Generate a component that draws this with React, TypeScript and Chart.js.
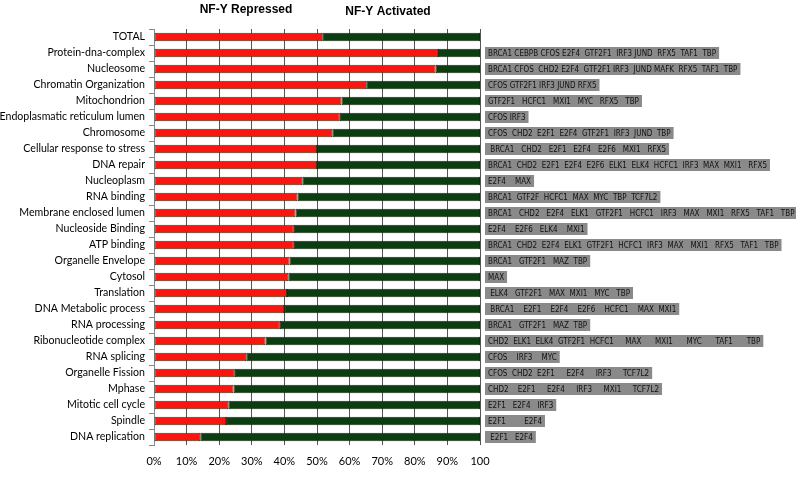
import React, { useEffect, useRef } from "react";
import { Chart, registerables } from "chart.js";

Chart.register(...registerables);

const categories = [
  "TOTAL",
  "Protein-dna-complex",
  "Nucleosome",
  "Chromatin Organization",
  "Mitochondrion",
  "Endoplasmatic reticulum lumen",
  "Chromosome",
  "Cellular response to stress",
  "DNA repair",
  "Nucleoplasm",
  "RNA binding",
  "Membrane enclosed lumen",
  "Nucleoside Binding",
  "ATP binding",
  "Organelle Envelope",
  "Cytosol",
  "Translation",
  "DNA Metabolic process",
  "RNA processing",
  "Ribonucleotide complex",
  "RNA splicing",
  "Organelle Fission",
  "Mphase",
  "Mitotic cell cycle",
  "Spindle",
  "DNA replication",
];

const repressed = [
  51.6, 87.1, 86.4, 65.1, 57.5, 57.0, 54.7, 50.0, 50.0, 45.5, 44.0, 43.4, 42.9,
  42.9, 41.6, 41.2, 40.8, 39.9, 38.6, 34.2, 28.3, 24.8, 24.4, 22.8, 22.1, 14.2,
];

const activated = [
  48.4, 12.9, 13.6, 34.9, 42.5, 43.0, 45.3, 50.0, 50.0, 54.5, 56.0, 56.6, 57.1,
  57.1, 58.4, 58.8, 59.2, 60.1, 61.4, 65.8, 71.7, 75.2, 75.6, 77.2, 77.9, 85.8,
];

const geneLists = [
  "",
  "BRCA1 CEBPB CFOS E2F4  GTF2F1  IRF3 JUND  RFX5  TAF1  TBP",
  "BRCA1 CFOS  CHD2 E2F4  GTF2F1 IRF3  JUND MAFK  RFX5  TAF1  TBP",
  "CFOS GTF2F1 IRF3 JUND RFX5",
  "GTF2F1   HCFC1   MXI1   MYC   RFX5   TBP",
  "CFOS IRF3",
  "CFOS  CHD2  E2F1  E2F4  GTF2F1  IRF3  JUND  TBP",
  " BRCA1   CHD2   E2F1   E2F4   E2F6   MXI1   RFX5",
  "BRCA1  CHD2  E2F1  E2F4  E2F6  ELK1  ELK4  HCFC1  IRF3  MAX  MXI1   RFX5",
  "E2F4    MAX",
  "BRCA1  GTF2F  HCFC1  MAX  MYC  TBP  TCF7L2",
  "BRCA1   CHD2   E2F4   ELK1   GTF2F1   HCFC1   IRF3   MAX   MXI1   RFX5   TAF1   TBP",
  "E2F4    E2F6   ELK4    MXI1",
  "BRCA1  CHD2  E2F4  ELK1  GTF2F1  HCFC1  IRF3  MAX   MXI1   RFX5   TAF1   TBP",
  "BRCA1   GTF2F1   MAZ  TBP",
  "MAX",
  " ELK4   GTF2F1   MAX  MXI1   MYC   TBP",
  " BRCA1    E2F1    E2F4    E2F6    HCFC1    MAX  MXI1",
  "BRCA1   GTF2F1   MAZ  TBP",
  "CHD2  ELK1  ELK4  GTF2F1  HCFC1     MAX      MXI1      MYC      TAF1      TBP",
  "CFOS    IRF3    MYC",
  "CFOS  CHD2  E2F1     E2F4     IRF3     TCF7L2",
  "CHD2    E2F1     E2F4     IRF3     MXI1     TCF7L2",
  "E2F1   E2F4   IRF3",
  "E2F1        E2F4",
  " E2F1   E2F4",
];

const xTickLabels = ["0%", "10%", "20%", "30%", "40%", "50%", "60%", "70%", "80%", "90%", "100"];

const titles = ["NF-Y Repressed", "NF-Y Activated"];

const overlayPlugin = {
  id: "overlay",
  afterDraw(chart: any) {
    const ctx = chart.ctx;
    const y = chart.scales.y;
    const area = chart.chartArea;
    ctx.save();
    ctx.fillStyle = "#000";
    ctx.font = "bold 12px 'Liberation Sans', Arial, sans-serif";
    ctx.textAlign = "center";
    ctx.textBaseline = "middle";
    ctx.fillText(titles[0], 246, 10);
    ctx.fillText(titles[1], 388, 12);
    ctx.font = "8px 'Liberation Sans Narrow', 'DejaVu Sans Condensed', sans-serif";
    ctx.textAlign = "left";
    geneLists.forEach((txt, i) => {
      if (!txt) return;
      const cy = y.getPixelForValue(i);
      const w = ctx.measureText(txt).width + 6;
      const x0 = area.right + 5;
      ctx.fillStyle = "#8a8a8a";
      ctx.fillRect(x0, cy - 6, w, 12);
      ctx.fillStyle = "#111";
      ctx.fillText(txt, x0 + 3, cy + 0.5);
    });
    ctx.restore();
  },
};

export default function App() {
  const ref = useRef<HTMLCanvasElement>(null);
  useEffect(() => {
    if (!ref.current) return;
    const chart = new Chart(ref.current, {
      type: "bar",
      data: {
        labels: categories,
        datasets: [
          {
            label: "NF-Y Repressed",
            data: repressed,
            backgroundColor: "#f8160f",
            borderColor: "#3a3a1a",
            borderWidth: 1,
            borderSkipped: false,
            barPercentage: 0.52,
            categoryPercentage: 1,
          },
          {
            label: "NF-Y Activated",
            data: activated,
            backgroundColor: "#0b3d10",
            borderColor: "#1a2a12",
            borderWidth: 1,
            borderSkipped: false,
            barPercentage: 0.52,
            categoryPercentage: 1,
          },
        ],
      },
      options: {
        indexAxis: "y",
        responsive: false,
        animation: false,
        layout: { padding: { top: 29, right: 316, left: 0, bottom: 0 } },
        plugins: { legend: { display: false }, tooltip: { enabled: false } },
        scales: {
          x: {
            stacked: true,
            min: 0,
            max: 100,
            afterFit: (s: any) => {
              s.height = 52;
            },
            border: { display: false },
            grid: { color: "#555", lineWidth: 1, drawTicks: false },
            ticks: {
              stepSize: 10,
              padding: 10,
              color: "#000",
              font: { family: "Lato, 'Open Sans', sans-serif", size: 11 },
              callback: (_v: any, i: number) => xTickLabels[i],
            },
          },
          y: {
            stacked: true,
            afterFit: (s: any) => {
              s.width = 154;
            },
            border: { display: true, color: "#888", width: 1 },
            grid: { drawOnChartArea: false, drawTicks: true, tickLength: 5, color: "#888", offset: true },
            ticks: {
              autoSkip: false,
              padding: 4,
              color: "#000",
              font: { family: "Lato, 'Open Sans', sans-serif", size: 10.6 },
            },
          },
        },
      },
      plugins: [overlayPlugin],
    });
    return () => chart.destroy();
  }, []);
  return (
    <div style={{ position: "absolute", left: 0, top: 0, width: 796, height: 497, background: "#fff" }}>
      <canvas ref={ref} width={796} height={497} />
    </div>
  );
}
